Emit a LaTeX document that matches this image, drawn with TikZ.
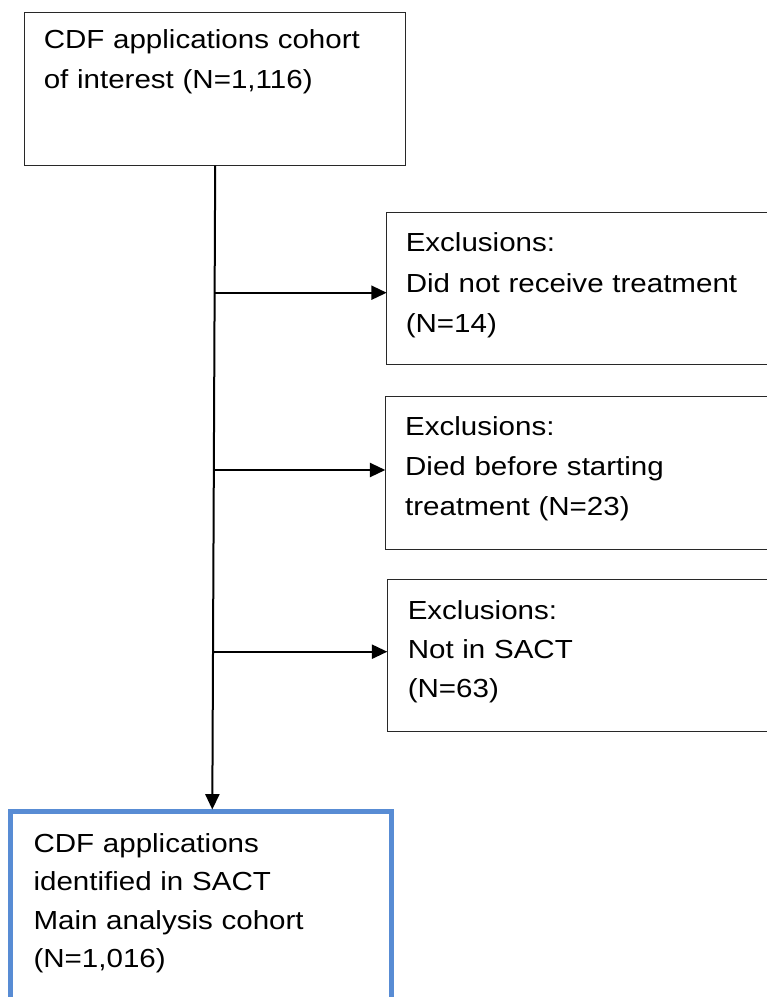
\documentclass[tikz,border=0pt]{standalone}
\usepackage{fontspec}
\setmainfont{Liberation Sans}[FakeStretch=1.13]
\usetikzlibrary{arrows.meta}
\definecolor{boxblue}{RGB}{88,140,212}
\definecolor{boxline}{RGB}{40,40,40}
\tikzset{
  box/.style={draw=boxline, line width=1pt, inner sep=0pt, outer sep=0pt, anchor=north west},
  bluebox/.style={draw=boxblue, line width=3.4pt, inner sep=0pt, outer sep=0pt, anchor=north west},
  txt/.style={anchor=base west, inner sep=0pt, text width=300pt, align=left, font=\fontsize{19.6}{30}\selectfont},
  flow/.style={line width=1.5pt, -{Triangle[length=11.5pt,width=10.5pt]}}
}
\begin{document}
\begin{tikzpicture}[x=0.75pt,y=-0.75pt]
\clip (0,0) rectangle (767,997);
\fill[white] (0,0) rectangle (767,997);
% boxes
\node[box, minimum width={381*0.75pt}, minimum height={153*0.75pt}] (cohort) at (24.7,12.7) {};
\node[box, minimum width={420*0.75pt}, minimum height={152*0.75pt}] (ex1) at (386.7,212.7) {};
\node[box, minimum width={420*0.75pt}, minimum height={152.6*0.75pt}] (ex2) at (385.3,396.7) {};
\node[box, minimum width={420*0.75pt}, minimum height={152*0.75pt}] (ex3) at (387.3,579.3) {};
\node[bluebox, minimum width={381*0.75pt}, minimum height={220*0.75pt}] (final) at (10.7,811.5) {};
% texts
\node[txt] (cohorttxt) at (43.5,48.5) {CDF applications cohort\\of interest (N=1,116)};
\node[txt, font=\fontsize{19.6}{30.5}\selectfont] (ex1txt) at (405.5,251.5) {Exclusions:\\Did not receive treatment\\(N=14)};
\node[txt] (ex2txt) at (404.9,435.3) {Exclusions:\\Died before starting\\treatment (N=23)};
\node[txt, font=\fontsize{19.6}{29.5}\selectfont] (ex3txt) at (407.5,619.3) {Exclusions:\\Not in SACT\\(N=63)};
\node[txt, font=\fontsize{19.6}{28.9}\selectfont] (finaltxt) at (33.3,852) {CDF applications\\identified in SACT\\Main analysis cohort\\(N=1,016)};
% connectors
\coordinate (end) at (212.3,809.5);
\coordinate (b1) at (214.4,292.7);
\coordinate (b2) at (213.7,470);
\coordinate (b3) at (213.0,651.7);
\draw[flow] (cohort.south) -- (end);
\draw[flow] (b1) -- (b1 -| ex1.west);
\draw[flow] (b2) -- (b2 -| ex2.west);
\draw[flow] (b3) -- (b3 -| ex3.west);
\end{tikzpicture}
\end{document}
